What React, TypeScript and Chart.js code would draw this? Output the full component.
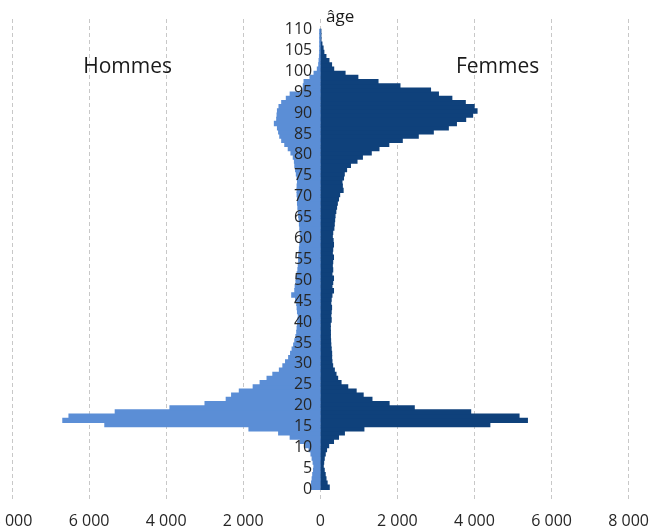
import { useEffect, useRef } from 'react';
import { Chart, registerables } from 'chart.js';

Chart.register(...registerables);

// Ages (lower bound of each one-year age band)
const AGES: number[] = Array.from({ length: 110 }, (_, i) => i);

// Hommes (count per age 0..109)
const HOMMES: number[] = [
  230, 225, 210, 195, 175, 165, 185, 210, 240, 290,
  380, 520, 780, 1080, 1850, 5590, 6680, 6520, 5320, 3900,
  2990, 2440, 2300, 2100, 1740, 1560, 1380, 1230, 1060, 970,
  900, 820, 770, 730, 690, 660, 630, 610, 600, 590,
  580, 570, 590, 600, 610, 640, 740, 660, 650, 630,
  620, 600, 580, 570, 560, 560, 550, 540, 530, 520,
  510, 520, 530, 540, 550, 560, 570, 580, 590, 590,
  600, 600, 600, 590, 600, 620, 640, 660, 670, 700,
  760, 830, 920, 1000, 1050, 1080, 1110, 1190, 1130, 1120,
  1110, 1070, 1000, 880, 780, 450, 440, 420, 265, 160,
  75, 40, 30, 20, 15, 12, 10, 8, 5, 5,
];

// Femmes (count per age 0..109)
const FEMMES: number[] = [
  230, 175, 145, 125, 100, 75, 85, 100, 126, 160,
  215, 340, 470, 623, 1129, 4397, 5372, 5155, 3900, 2436,
  1783, 1338, 1110, 928, 710, 536, 448, 405, 362, 318,
  300, 292, 292, 280, 270, 265, 260, 260, 257, 257,
  280, 270, 280, 290, 270, 280, 300, 340, 300, 320,
  340, 300, 320, 310, 320, 340, 310, 320, 340, 330,
  310, 320, 350, 360, 370, 380, 400, 420, 440, 470,
  500, 590, 570, 560, 600, 620, 680, 780, 950, 1090,
  1320, 1520, 1775, 2125, 2540, 2930, 3320, 3530, 3770, 3950,
  4065, 3990, 3760, 3411, 3063, 2858, 2065, 1495, 972, 640,
  345, 290, 222, 144, 90, 70, 40, 15, 10, 5,
];

const X_MIN = -8000;
const X_MAX = 8000;
const X_STEP = 2000;
const Y_MIN = 0;
const Y_MAX = 110;
const Y_STEP = 5;

const SERIES_LABELS = ['Hommes', 'Femmes'];
const AXIS_TITLE = 'âge';

const FONT = "'Open Sans', 'Noto Sans', sans-serif";
const COLOR_H = '#5B8ED6';
const COLOR_F = '#0F417B';

const formatThousands = (v: number) =>
  String(Math.abs(Math.round(v))).replace(/\B(?=(\d{3})+(?!\d))/g, ' ');

const annotationPlugin = {
  id: 'annotations',
  afterDraw(chart: any) {
    const { ctx, scales, chartArea } = chart;
    const x = scales.x;
    const y = scales.y;
    ctx.save();
    ctx.fillStyle = '#1a1a1a';
    ctx.textBaseline = 'middle';
    ctx.textAlign = 'center';
    ctx.font = `21px ${FONT}`;
    ctx.fillText(SERIES_LABELS[0], x.getPixelForValue(-5000), y.getPixelForValue(101));
    ctx.fillText(SERIES_LABELS[1], x.getPixelForValue(4600), y.getPixelForValue(101));
    ctx.font = `17px ${FONT}`;
    ctx.textAlign = 'left';
    ctx.fillText(AXIS_TITLE, x.getPixelForValue(150), chartArea.top - 2);
    ctx.restore();
  },
};

export default function App() {
  const canvasRef = useRef<HTMLCanvasElement | null>(null);

  useEffect(() => {
    if (!canvasRef.current) return;
    const chart = new Chart(canvasRef.current, {
      type: 'bar',
      data: {
        datasets: [
          {
            label: SERIES_LABELS[0],
            data: AGES.map((a, i) => ({ x: -HOMMES[i], y: a + 0.5 })),
            backgroundColor: COLOR_H,
            borderWidth: 0,
            inflateAmount: 0.6,
            barPercentage: 1,
            categoryPercentage: 1,
          },
          {
            label: SERIES_LABELS[1],
            data: AGES.map((a, i) => ({ x: FEMMES[i], y: a + 0.5 })),
            backgroundColor: COLOR_F,
            borderWidth: 0,
            inflateAmount: 0.6,
            barPercentage: 1,
            categoryPercentage: 1,
          },
        ],
      },
      options: {
        indexAxis: 'y',
        animation: false,
        responsive: true,
        maintainAspectRatio: false,
        layout: { padding: { left: 42, right: 23, top: 19, bottom: 0 } },
        plugins: {
          legend: { display: false },
          tooltip: { enabled: false },
        },
        scales: {
          x: {
            type: 'linear',
            stacked: true,
            min: X_MIN,
            max: X_MAX,
            border: { display: false, dash: [4, 3] },
            grid: { color: '#c8c8c8', lineWidth: 1, drawTicks: false },
            ticks: {
              stepSize: X_STEP,
              padding: 12,
              maxRotation: 0,
              color: '#262626',
              font: { family: FONT, size: 16 },
              callback: (v: any) => formatThousands(Number(v)),
            },
          },
          y: {
            type: 'linear',
            stacked: true,
            min: Y_MIN,
            max: Y_MAX,
            position: { x: -210 },
            border: { display: false },
            grid: { display: false, drawTicks: false },
            ticks: {
              stepSize: Y_STEP,
              autoSkip: false,
              padding: 0,
              z: 1,
              color: '#262626',
              font: { family: FONT, size: 16 },
              callback: (v: any) => String(v),
            },
          },
        },
      },
      plugins: [annotationPlugin],
    } as any);
    return () => chart.destroy();
  }, []);

  return (
    <div style={{ position: 'fixed', left: -30, top: 0, width: 691, height: 543 }}>
      <canvas ref={canvasRef} />
    </div>
  );
}
